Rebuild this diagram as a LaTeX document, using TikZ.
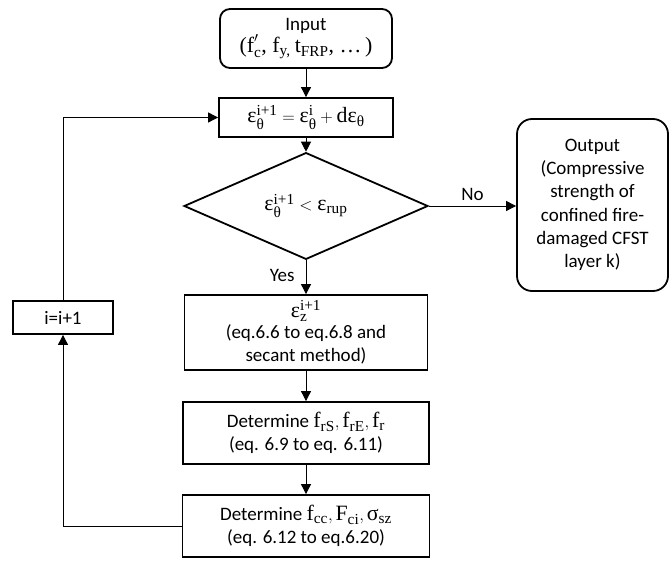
\documentclass[tikz,border=0pt]{standalone}
\usepackage{amsmath}
\usepackage{fontspec}
\setmainfont{Carlito}
\newfontfamily\mserif[Scale=1.15]{Liberation Serif}
% upright serif letters for the formulas
\newcommand\mv[1]{\text{\mserif #1}}
\usetikzlibrary{shapes.geometric,arrows.meta}

\tikzset{
  procbox/.style={draw, line width=1.8pt, inner sep=0pt, align=center},
  termbox/.style={procbox, rounded corners=#1},
  decbox/.style={draw, line width=1.8pt, diamond, inner sep=0pt, align=center},
  flow/.style={line width=0.9pt, -{Triangle[length=10pt,width=10pt]}},
  lbl/.style={inner sep=1pt}
}

\begin{document}
\begin{tikzpicture}[x=1pt, y=-1pt, font=\fontsize{19}{23.3}\selectfont]
\useasboundingbox (0,0) rectangle (670,561);

% main column
\node[termbox=10pt, minimum width=172pt, minimum height=59pt] (input) at (306,38.5)
  {Input\\[-1pt]{\mserif(}\(\mv{f}'_{\mv{c}}\){\mserif, }\(\mv{f}_{\mv{y,}}\)\ \(\mv{t}_{\mv{FRP}}\){\mserif, …\,)}};
\node[procbox, minimum width=174pt, minimum height=39pt] (eps) at (306,117.5)
  {\(\mv{ε}^{\mv{i+1}}_{\mv{θ}} = \mv{ε}^{\mv{i}}_{\mv{θ}} + \mv{dε}_{\mv{θ}}\)};
\node[decbox, minimum width=244pt, minimum height=70pt] (dec) at (306,206)
  {\(\mv{ε}^{\mv{i+1}}_{\mv{θ}} < \mv{ε}_{\mv{rup}}\)};
\node[procbox, minimum width=243pt, minimum height=75pt] (epsz) at (306,332.5)
  {\(\mv{ε}^{\mv{i+1}}_{\mv{z}}\)\\[-2pt](eq.6.6 to eq.6.8 and\\secant method)};
\node[procbox, minimum width=246pt, minimum height=62pt] (frs) at (306,433)
  {Determine \(\mv{f}_{\mv{rS}}, \mv{f}_{\mv{rE}}, \mv{f}_{\mv{r}}\)\\(eq. 6.9 to eq. 6.11)};
\node[procbox, minimum width=247pt, minimum height=62pt] (fcc) at (306,526)
  {Determine \(\mv{f}_{\mv{cc}}, \mv{F}_{\mv{ci}}, \mv{σ}_{\mv{sz}}\)\\(eq. 6.12 to eq.6.20)};

% result and counter
\node[termbox=15pt, minimum width=151pt, minimum height=172pt] (out) at (592.5,205)
  {Output\\(Compressive\\strength of\\confined fire-\\damaged CFST\\layer k)};
\node[procbox, minimum width=100pt, minimum height=33pt] (inc) at (63,317.5) {i=i+1};

% connectors
\draw[flow] (input) -- (eps);
\draw[flow] (eps) -- (dec);
\draw[flow] (dec.east) -- node[lbl, above=4pt] {No} (dec.east -| out.west);
\draw[flow] (dec.south) -- node[lbl, left=10pt, pos=0.45] {Yes} (epsz.north);
\draw[flow] (epsz) -- (frs);
\draw[flow] (frs) -- (fcc);
\draw[flow] (fcc.west) -| (inc.south);
\draw[flow] (inc.north) |- (eps.west);
\end{tikzpicture}
\end{document}
